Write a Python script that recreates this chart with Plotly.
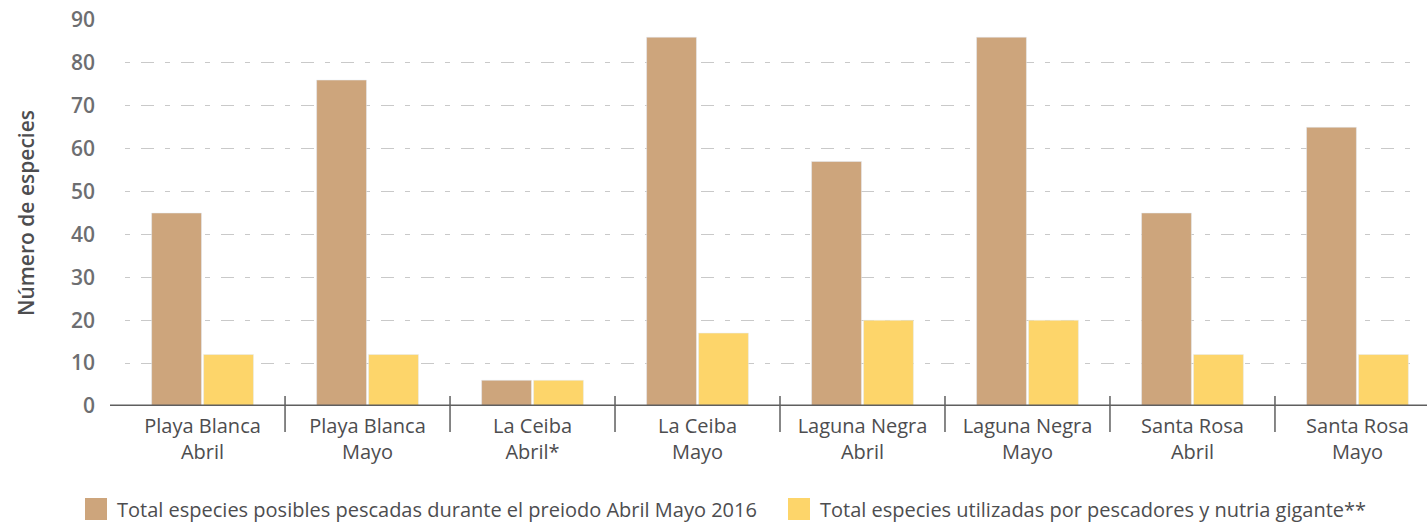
import plotly.graph_objects as go

# Sites / months sampled
categories = [
    "Playa Blanca<br>Abril", "Playa Blanca<br>Mayo", "La Ceiba<br>Abril*", "La Ceiba<br>Mayo",
    "Laguna Negra<br>Abril", "Laguna Negra<br>Mayo", "Santa Rosa<br>Abril", "Santa Rosa<br>Mayo",
]
total_posibles = [45, 76, 6, 86, 57, 86, 45, 65]
total_utilizadas = [12, 12, 6, 17, 20, 20, 12, 12]
series_names = [
    "Total especies posibles pescadas durante el preiodo Abril Mayo 2016",
    "Total especies utilizadas por pescadores y nutria gigante**",
]
y_ticks = [0, 10, 20, 30, 40, 50, 60, 70, 80, 90]

BROWN = "#CDA57C"
YELLOW = "#FDD56A"
TEXT = "#4d4d4f"
FONT = "Open Sans"

x_idx = list(range(len(categories)))

fig = go.Figure()
fig.add_trace(go.Bar(x=x_idx, y=total_posibles, marker_color=BROWN, name=series_names[0],
                     showlegend=False))
fig.add_trace(go.Bar(x=x_idx, y=total_utilizadas, marker_color=YELLOW, name=series_names[1],
                     showlegend=False))

W, H = 1427, 524
ml, mr, mt, mb = 125, 8, 20, 118
pw = W - ml - mr

fig.update_layout(
    width=W, height=H,
    margin=dict(l=ml, r=mr, t=mt, b=mb, autoexpand=False),
    plot_bgcolor="white", paper_bgcolor="white",
    barmode="group", bargap=0.37, bargroupgap=0.04,
    font=dict(family=FONT, color=TEXT),
    xaxis=dict(
        range=[-0.47, 7.373], automargin=False,
        tickmode="array", tickvals=x_idx, ticktext=categories,
        showgrid=False, zeroline=False, showline=False, ticks="",
        tickfont=dict(size=20, color=TEXT),
        ticklabelstandoff=6,
    ),
    yaxis=dict(
        range=[0, 90], automargin=False,
        tickmode="array", tickvals=y_ticks,
        showgrid=True, gridcolor="#c9c9c9", gridwidth=1.3,
        griddash="5px,11px,13px,11px",
        zeroline=False, showline=False, ticks="",
        tickfont=dict(size=21, color="#6d6e71", weight=600),
        ticklabelstandoff=29,
        title=dict(text="Número de especies", font=dict(size=21, color=TEXT, weight=600),
                   standoff=30),
    ),
)

# Baseline axis line
fig.add_shape(type="line", xref="paper", yref="y",
              x0=-15 / pw, x1=1 + mr / pw, y0=0, y1=0,
              line=dict(color="#5f5f5f", width=3), layer="above")
# Category dividers crossing the baseline
for i in range(len(categories) - 1):
    fig.add_shape(type="line", xref="x", yref="paper",
                  x0=i + 0.5, x1=i + 0.5, y0=10 / 386, y1=-26 / 386,
                  line=dict(color="#5f5f5f", width=1.5), layer="above")

# Legend drawn below the plot
legend_items = [(85, BROWN, series_names[0]), (788, YELLOW, series_names[1])]
for x0, col, label in legend_items:
    fig.add_shape(type="rect", xref="paper", yref="paper",
                  x0=(x0 - ml) / pw, x1=(x0 + 22 - ml) / pw,
                  y0=-(498 - 406) / 386, y1=-(520 - 406) / 386,
                  fillcolor=col, line=dict(width=0))
    fig.add_annotation(xref="paper", yref="paper",
                       x=(x0 + 30 - ml) / pw, y=-(509 - 406) / 386,
                       xanchor="left", yanchor="middle", showarrow=False,
                       text=label, font=dict(size=20, color=TEXT, family=FONT))

fig.write_html("out.html")
